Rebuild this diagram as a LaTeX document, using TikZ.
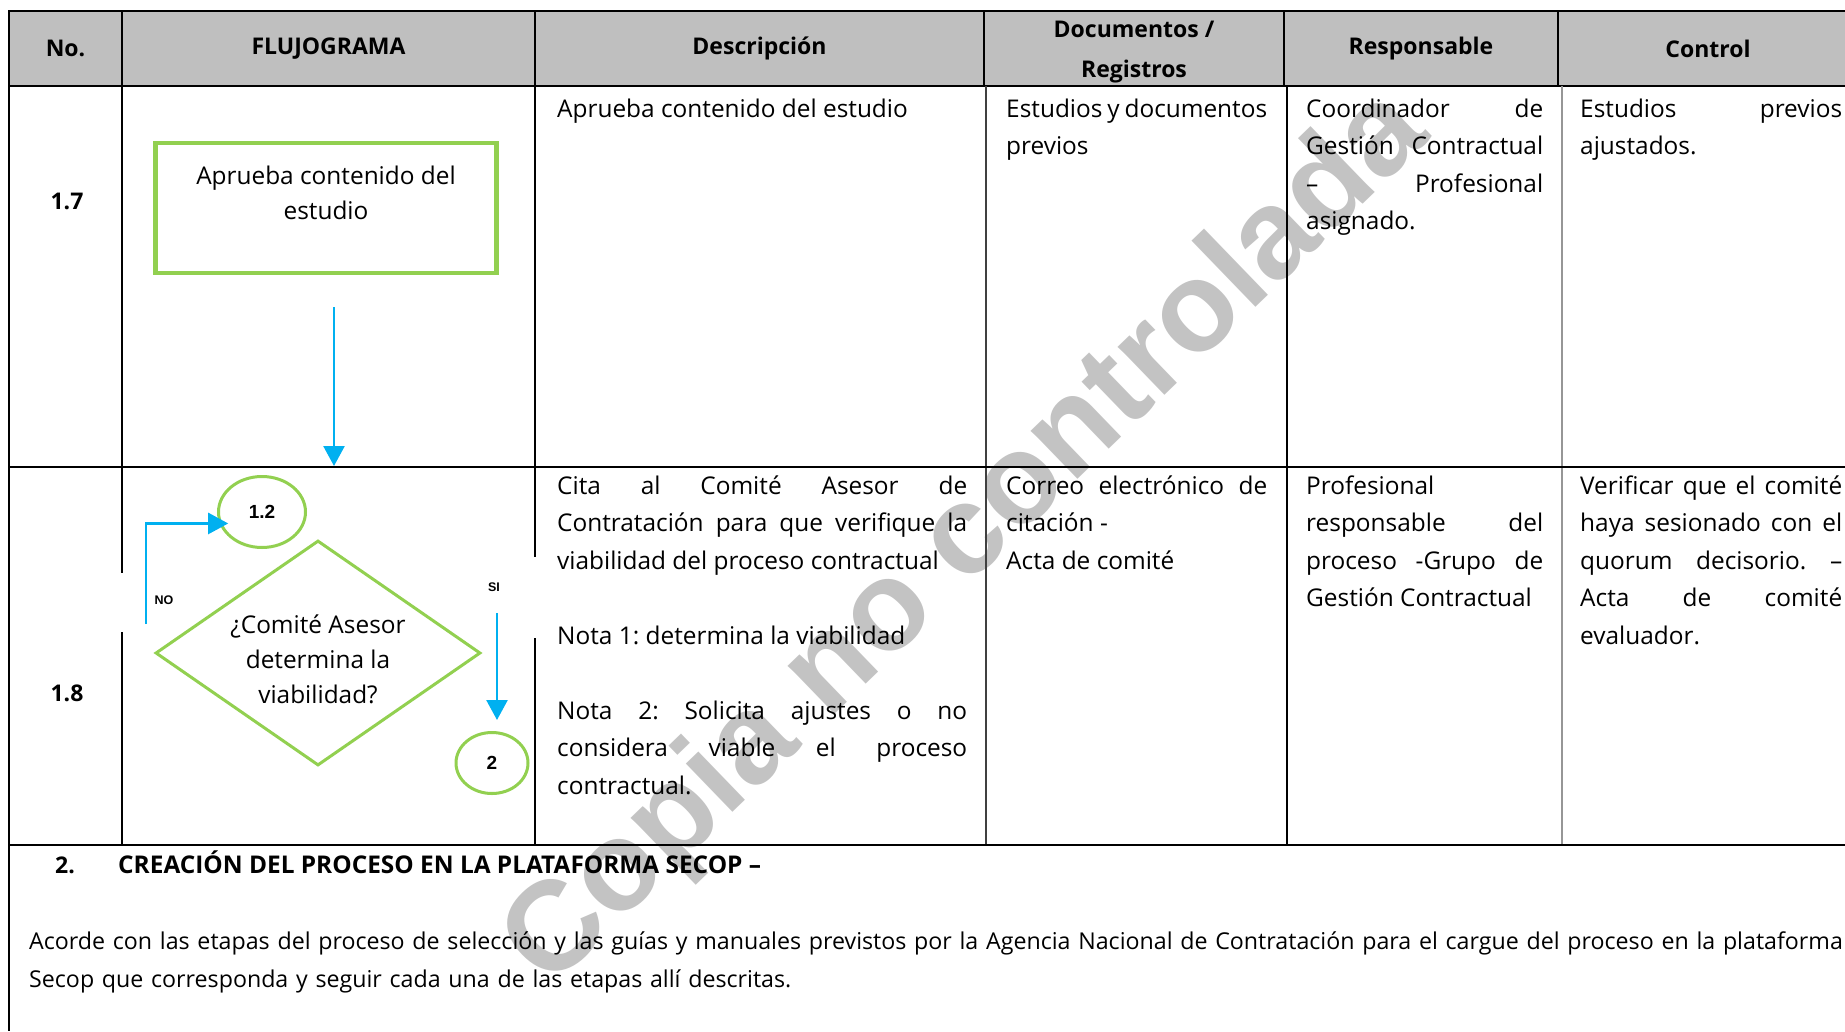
\documentclass[tikz,border=0pt]{standalone}
\usepackage{fontspec}
\setmainfont{Open Sans}
\newfontfamily\arialfont{Liberation Sans}
\usetikzlibrary{positioning,calc,shapes.geometric,arrows.meta}

\definecolor{flowgreen}{RGB}{146,208,80}
\definecolor{flowblue}{RGB}{0,176,240}
\definecolor{hdrgray}{RGB}{191,191,191}
\definecolor{wmgray}{RGB}{195,195,195}
\definecolor{rulegray}{RGB}{150,150,150}

\newcommand\bodyfont{\fontsize{24.4}{37.5}\selectfont}
\newcommand\hdrfont{\fontsize{23}{40}\selectfont\bfseries}
\newlength\celw
\newcommand\jl[1]{\makebox[\celw][s]{\spaceskip=0pt\xspaceskip=0pt\relax #1}}
\frenchspacing

\begin{document}
\begin{tikzpicture}[x=1pt,y=-1pt,
  hcell/.style={draw,line width=2.5pt,fill=hdrgray,minimum height=75pt,
    inner sep=0pt,outer sep=0pt,align=center,font=\hdrfont},
  cell/.style={anchor=base west,inner sep=0pt,text width=#1,align=justify,
    font=\bodyfont,execute at begin node={\setlength\celw{#1}}},
  num/.style={font=\hdrfont},
  proc/.style={rectangle,draw=flowgreen,line width=4.5pt,
    minimum width=341pt,minimum height=130pt},
  dec/.style={diamond,draw=flowgreen,line width=3pt,
    minimum width=325pt,minimum height=225pt,inner sep=0pt},
  conn/.style={ellipse,draw=flowgreen,line width=3pt,inner sep=0pt,
    font=\arialfont\bfseries\fontsize{19}{19}\selectfont},
  ftext/.style={align=center,font=\fontsize{24.4}{35}\selectfont},
  flow/.style={draw=flowblue,line width=2.5pt,-{Triangle[length=20pt,width=21pt]}},
  tag/.style={font=\arialfont\bfseries\fontsize{12.5}{12.5}\selectfont},
  rule/.style={line width=2.5pt}]

\useasboundingbox (0,0) rectangle (1845,1031);

\node[hcell,minimum width=113pt,anchor=north west] (hno) at (9,11) {No.};
\node[hcell,minimum width=413pt,right=0pt of hno] (hflu) {FLUJOGRAMA};
\node[hcell,minimum width=449pt,right=0pt of hflu] (hdes) {Descripción};
\node[hcell,minimum width=300pt,right=0pt of hdes] (hdoc) {\rule{0pt}{24pt}Documentos /\\Registros};
\node[hcell,minimum width=274pt,right=0pt of hdoc] (hres) {Responsable};
\node[hcell,minimum width=300pt,right=0pt of hres] (hctl) {Control};

\node[rotate=44,text=wmgray,font=\arialfont\bfseries\fontsize{127}{127}\selectfont]
  (wm) at (968,540) {Copia no controlada};

\draw[rule] (9,86) -- (9,1031);
\draw[rule] (122,86) -- (122,573) (122,632) -- (122,845);
\draw[rule] (535,86) -- (535,557) (535,638) -- (535,845);
\draw[rule,black!75] (986,86) -- (986,845);
\draw[rule] (1287,86) -- (1287,845);
\draw[rule,rulegray] (1562,86) -- (1562,845);
\draw[rule] (9,467) -- (1845,467) (9,845) -- (1845,845);

\node[num] (n17) at (67,201) {1.7};
\node[num] (n18) at (67,693) {1.8};

\node[proc,label={[ftext,yshift=15pt]center:{Aprueba contenido del\\estudio}}] (apr) at (326,208) {};
\coordinate (a1) at (334,307);
\coordinate (a2) at (334,466);
\draw[flow] (a1) -- (a2);

\node[conn,minimum width=87pt,minimum height=71pt] (c12) at (262,512) {1.2};
\node[dec,label={[ftext,yshift=-6pt]center:{¿Comité Asesor\\determina la\\viabilidad?}}] (dcm) at (318,653) {};
\node[conn,minimum width=72pt,minimum height=61pt] (c2) at (492,763) {2};
\coordinate (nobase) at (146,624);
\draw[flow,shorten >=-9pt] (nobase) |- (c12.195);
\node[tag] (tno) at (164,600) {NO};
\coordinate (si1) at (497,613);
\coordinate (si2) at (497,720);
\draw[flow] (si1) -- (si2);
\node[tag] (tsi) at (494,587) {SI};

\node[cell=410pt] (d17) at (557,117) {Aprueba contenido del estudio};
\node[cell=261pt] (r17) at (1006,117) {\jl{Estudios y documentos}\\previos};
\node[cell=237pt] (p17) at (1306,117) {\jl{Coordinador de}\\\jl{Gestión Contractual}\\\jl{– Profesional}\\asignado.};
\node[cell=262pt] (k17) at (1580,117) {\jl{Estudios previos}\\ajustados.};

\node[cell=410pt] (d18) at (557,494) {\jl{Cita al Comité Asesor de}\\\jl{Contratación para que verifique la}\\viabilidad del proceso contractual\\[37.5pt]Nota 1: determina la viabilidad\\[37.5pt]\jl{Nota 2: Solicita ajustes o no}\\\jl{considera viable el proceso}\\contractual.};
\node[cell=261pt] (r18) at (1006,494) {\jl{Correo electrónico de}\\citación -\\Acta de comité};
\node[cell=237pt] (p18) at (1306,494) {Profesional\\\jl{responsable del}\\\jl{proceso -Grupo de}\\Gestión Contractual};
\node[cell=262pt] (k18) at (1580,494) {\jl{Verificar que el comité}\\\jl{haya sesionado con el}\\\jl{quorum decisorio. –}\\\jl{Acta de comité}\\evaluador.};

\node[anchor=base west,inner sep=0pt,font=\hdrfont] (s2n) at (55,873) {2.};
\node[anchor=base west,inner sep=0pt,font=\fontsize{24.4}{30}\selectfont\bfseries] (s2t) at (118,873) {CREACIÓN DEL PROCESO EN LA PLATAFORMA SECOP –};
\node[anchor=base west,inner sep=0pt,text width=1835pt,font=\fontsize{23.2}{38}\selectfont]
  (s2p) at (29,949) {Acorde con las etapas del proceso de selección y las guías y manuales previstos por la Agencia Nacional de Contratación para el cargue del proceso en la plataforma\\Secop que corresponda y seguir cada una de las etapas allí descritas.};
\end{tikzpicture}
\end{document}
